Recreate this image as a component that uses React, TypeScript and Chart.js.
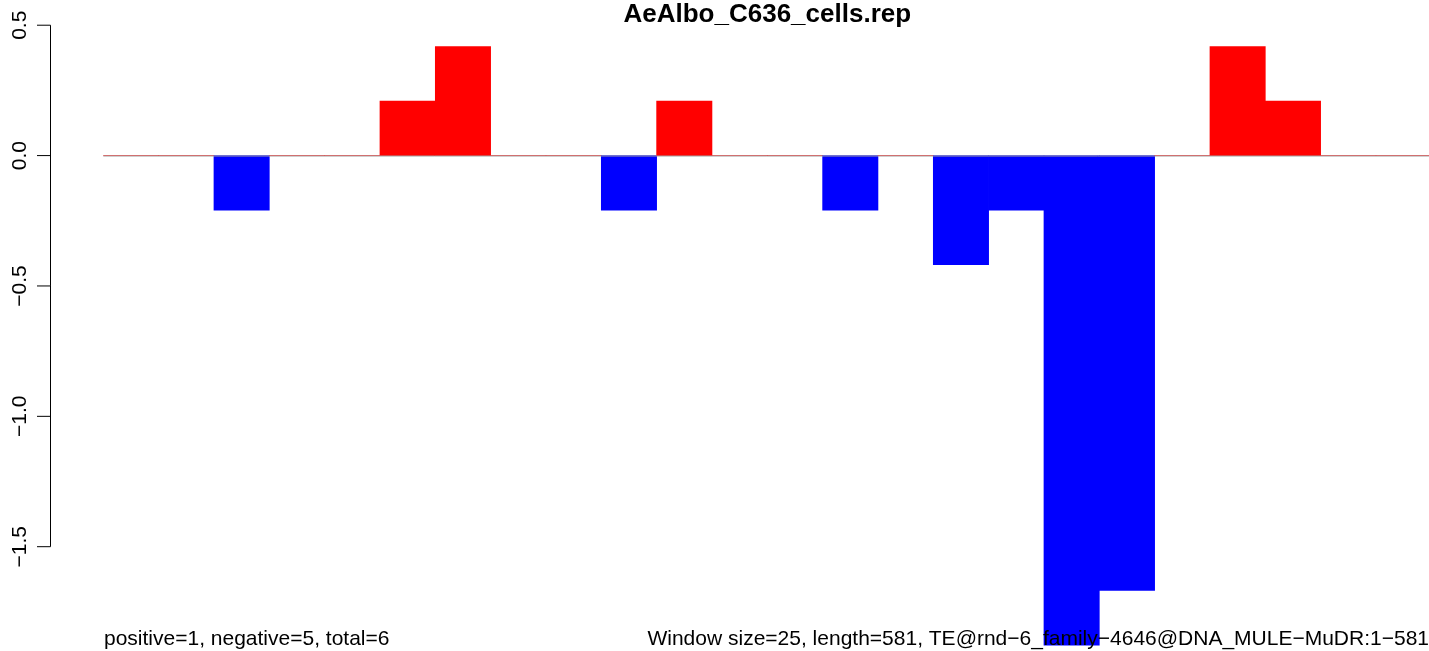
import React, { useEffect, useRef } from "react";
import { Chart, registerables } from "chart.js";

Chart.register(...registerables);

const titleText = "AeAlbo_C636_cells.rep";
const leftNote = "positive=1, negative=5, total=6";
const rightNote = "Window size=25, length=581, TE@rnd\u22126_family\u22124646@DNA_MULE\u2212MuDR:1\u2212581";

const windows = [
  "1", "2", "3", "4", "5", "6", "7", "8", "9", "10", "11", "12",
  "13", "14", "15", "16", "17", "18", "19", "20", "21", "22", "23", "24",
];
const scores = [
  0, 0, -0.209, 0, 0, 0.209, 0.418, 0, 0, -0.209, 0.209, 0,
  0, -0.209, 0, -0.418, -0.209, -1.878, -1.668, 0, 0.418, 0.209, 0, 0,
];
const yTicks = [0.5, 0, -0.5, -1, -1.5];
const yTickLabels = ["0.5", "0.0", "\u22120.5", "\u22121.0", "\u22121.5"];

const FONT = "'Liberation Sans', Arial, Helvetica, sans-serif";

export default function App() {
  const ref = useRef<HTMLCanvasElement | null>(null);

  useEffect(() => {
    const canvas = ref.current;
    if (!canvas) return;

    const overlay = {
      id: "rOverlay",
      afterDatasetsDraw(chart: any) {
        const ctx = chart.ctx as CanvasRenderingContext2D;
        const y = chart.scales.y;
        const area = chart.chartArea;
        ctx.save();
        // zero line
        const y0 = Math.round(y.getPixelForValue(0));
        ctx.strokeStyle = "#a0a0a0";
        ctx.lineWidth = 1;
        ctx.beginPath();
        ctx.moveTo(area.left, y0);
        ctx.lineTo(1429, y0);
        ctx.stroke();

        // y axis
        const axisX = 50.5;
        const top = y.getPixelForValue(yTicks[0]);
        const bot = y.getPixelForValue(yTicks[yTicks.length - 1]);
        ctx.strokeStyle = "#000";
        ctx.beginPath();
        ctx.moveTo(axisX, top);
        ctx.lineTo(axisX, bot);
        ctx.stroke();
        ctx.font = `21px ${FONT}`;
        ctx.fillStyle = "#000";
        yTicks.forEach((v, i) => {
          const py = y.getPixelForValue(v);
          ctx.beginPath();
          ctx.moveTo(37, py);
          ctx.lineTo(axisX, py);
          ctx.stroke();
          ctx.save();
          ctx.translate(26, py);
          ctx.rotate(-Math.PI / 2);
          ctx.textAlign = "center";
          ctx.textBaseline = "alphabetic";
          ctx.fillText(yTickLabels[i], 0, 0);
          ctx.restore();
        });

        // title
        ctx.font = `bold 26px ${FONT}`;
        ctx.textAlign = "center";
        ctx.textBaseline = "alphabetic";
        ctx.fillText(titleText, (area.left + area.right) / 2, 22);

        // bottom notes
        ctx.font = `21px ${FONT}`;
        ctx.textAlign = "left";
        ctx.fillText(leftNote, 104, 645);
        ctx.textAlign = "right";
        ctx.fillText(rightNote, 1429, 645);
        ctx.restore();
      },
    };

    const chart = new Chart(canvas, {
      type: "bar",
      data: {
        labels: windows,
        datasets: [
          {
            data: scores,
            backgroundColor: scores.map((v) => (v >= 0 ? "#ff0000" : "#0000ff")),
            borderWidth: 0,
            barPercentage: 1,
            categoryPercentage: 1,
          },
        ],
      },
      options: {
        animation: false,
        responsive: false,
        maintainAspectRatio: false,
        devicePixelRatio: 1,
        layout: { padding: { left: 103.3, right: 0.7, top: 0, bottom: 0 } },
        plugins: {
          legend: { display: false },
          tooltip: { enabled: false },
          title: { display: false },
        },
        scales: {
          x: { display: false, grid: { display: false } },
          y: {
            display: false,
            min: -1.9,
            max: 0.5967,
            grid: { display: false },
          },
        },
      },
      plugins: [overlay],
    });
    return () => chart.destroy();
  }, []);

  return (
    <div
      style={{
        position: "fixed",
        left: 0,
        top: 0,
        width: 1429,
        height: 651,
        overflow: "hidden",
        background: "#ffffff",
      }}
    >
      <canvas ref={ref} width={1432} height={651} style={{ width: 1432, height: 651, display: "block" }} />
    </div>
  );
}
